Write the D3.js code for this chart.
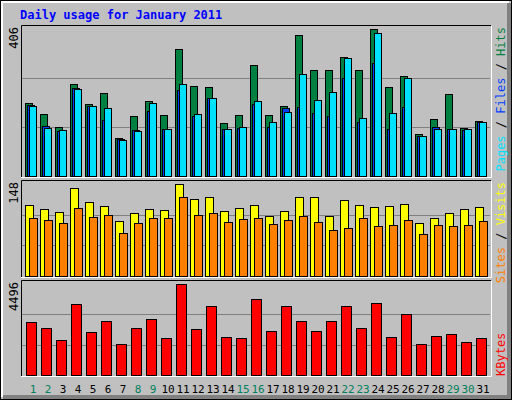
<!DOCTYPE html>
<html>
<head>
<meta charset="utf-8">
<script src="https://cdn.jsdelivr.net/npm/d3@7"></script>
<style>
  body { margin: 0; background: #fff; }
  text { font-family: "DejaVu Sans Mono", monospace; }
</style>
</head>
<body>
<div id="chart"></div>
<script>
// days of January 2011, weekends shown in green
var days = d3.range(1, 32);
var weekend = [1, 2, 8, 9, 15, 16, 22, 23, 29, 30];

var hits = [202, 171, 135, 254, 199, 229, 105, 166, 207, 168, 351, 249, 246, 146, 168, 307,
  168, 193, 389, 293, 293, 329, 293, 406, 246, 276, 116, 157, 226, 133, 152];
var files = [196, 138, 124, 243, 193, 155, 102, 127, 180, 130, 238, 166, 215, 130, 133, 199,
  135, 188, 191, 174, 166, 271, 149, 312, 130, 191, 110, 135, 130, 127, 149];
var pages = [193, 133, 127, 240, 193, 188, 99, 124, 202, 130, 254, 171, 215, 130, 135, 207,
  149, 177, 282, 210, 232, 326, 160, 395, 174, 271, 110, 130, 130, 130, 149];
var visits = [114, 108, 103, 142, 119, 113, 88, 101, 108, 106, 148, 124, 127, 105, 109, 114,
  97, 105, 127, 127, 97, 122, 114, 111, 113, 116, 85, 93, 101, 108, 111];
var sites = [93, 90, 85, 109, 95, 98, 69, 85, 93, 93, 127, 98, 101, 87, 92, 93,
  84, 90, 97, 87, 74, 77, 93, 80, 82, 90, 68, 82, 80, 82, 88];
var kbytes = [2618, 2322, 1729, 3507, 2124, 2668, 1531, 2322, 2766, 1828, 4496, 2272, 3409, 1877, 1828, 3754,
  2174, 3409, 2668, 2174, 2668, 3409, 2322, 3557, 1877, 3013, 1531, 1927, 2025, 1630, 1828];

var W = 512, H = 400;
var svg = d3.select('#chart').append('svg').attr('width', W).attr('height', H);

// frame
svg.append('rect').attr('width', W).attr('height', H).attr('fill', '#c0c0c0');
svg.append('rect').attr('x', 0.5).attr('y', 0.5).attr('width', W - 1).attr('height', H - 1)
  .attr('fill', 'none').attr('stroke', 'black');
svg.append('path').attr('d', 'M2,397V2H509').attr('fill', 'none').attr('stroke', 'white').attr('stroke-width', 2);
svg.append('path').attr('d', 'M3,397H509V3').attr('fill', 'none').attr('stroke', '#808080').attr('stroke-width', 4);

svg.append('text').attr('x', 20).attr('y', 19).attr('fill', '#0000ff')
  .attr('font-size', 12).attr('font-weight', 'bold').text('Daily usage for January 2011');

var x = d3.scaleBand().domain(days).range([23, 488]).paddingInner(0);

function panel(top, bottom, max, series, legend, legendAtTop) {
  var y = d3.scaleLinear().domain([0, max]).range([bottom, top]);
  var g = svg.append('g');
  g.append('rect').attr('x', 21).attr('y', top - 3).attr('width', 470).attr('height', bottom - top + 4)
    .attr('fill', '#c0c0c0');
  // grid
  [max / 3, max * 2 / 3].forEach(function (v) {
    g.append('line').attr('x1', 22).attr('x2', 490).attr('y1', Math.round(y(v)) + 0.5)
      .attr('y2', Math.round(y(v)) + 0.5).attr('stroke', '#808080');
  });
  // border: dark top/left, white bottom/right
  g.append('path').attr('d', 'M21.5,' + (bottom + 1) + 'V' + (top - 3.5) + 'H491')
    .attr('fill', 'none').attr('stroke', 'black');
  g.append('path').attr('d', 'M21,' + (bottom + 1.5) + 'H491.5V' + (top - 3))
    .attr('fill', 'none').attr('stroke', 'white');
  series.forEach(function (s) {
    g.selectAll(null).data(s.data).enter().append('rect')
      .attr('x', function (d, i) { return x(days[i]) + s.off + 0.5; })
      .attr('y', function (d) { return Math.round(y(d)) + 0.5; })
      .attr('width', s.w)
      .attr('height', function (d) { return bottom - Math.round(y(d)); })
      .attr('fill', s.color).attr('stroke', 'black');
  });
  // max label
  svg.append('text').attr('transform', 'translate(18,' + (top - 2) + ') rotate(-90)')
    .attr('text-anchor', 'end').attr('font-size', 12).text(max);
  // legend
  var t = svg.append('text').attr('font-size', 12)
    .attr('text-anchor', legendAtTop ? 'end' : 'start')
    .attr('transform', 'translate(505,' + (legendAtTop ? top - 2 : bottom + 1) + ') rotate(-90)');
  legend.forEach(function (l, i) {
    if (i > 0) t.append('tspan').attr('fill', 'black').text(' / ');
    t.append('tspan').attr('fill', l.color).text(l.name);
  });
}

panel(29, 176, 406, [
  { data: hits, color: '#008040', off: 2, w: 7 },
  { data: files, color: '#0040ff', off: 4, w: 7 },
  { data: pages, color: '#00e0ff', off: 6, w: 7 }
], [{ name: 'Pages', color: '#00e0ff' }, { name: 'Files', color: '#0040ff' }, { name: 'Hits', color: '#008040' }], true);

panel(184, 276, 148, [
  { data: visits, color: '#ffff00', off: 2, w: 8 },
  { data: sites, color: '#ff8000', off: 6, w: 8 }
], [{ name: 'Sites', color: '#ff8000' }, { name: 'Visits', color: '#ffff00' }], true);

panel(284, 375, 4496, [
  { data: kbytes, color: '#ff0000', off: 3, w: 10 }
], [{ name: 'KBytes', color: '#ff0000' }], false);

// day labels
svg.selectAll('text.day').data(days).enter().append('text').attr('class', 'day')
  .attr('x', function (d) { return x(d) + 10; }).attr('y', 393)
  .attr('text-anchor', 'middle').attr('font-size', 11)
  .attr('fill', function (d) { return weekend.indexOf(d) >= 0 ? '#00805c' : 'black'; })
  .text(function (d) { return d; });
</script>
</body>
</html>
